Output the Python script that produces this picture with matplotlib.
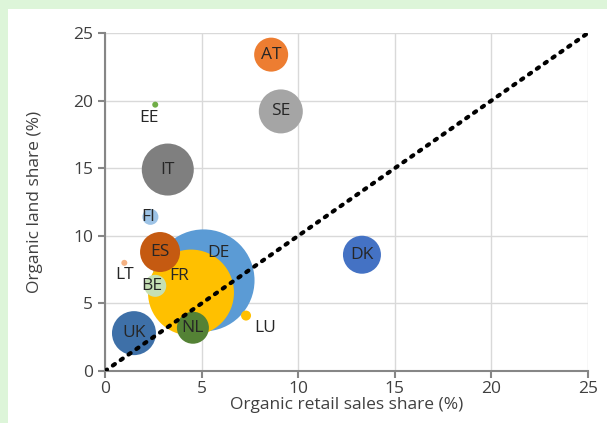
import matplotlib
matplotlib.use("Agg")
import matplotlib.pyplot as plt
from matplotlib.patches import Rectangle

countries = ["DE", "FR", "IT", "SE", "UK", "ES", "DK", "AT", "NL", "BE", "FI", "LU", "EE", "LT"]
retail_share = [5.1, 4.45, 3.25, 9.1, 1.5, 2.85, 13.3, 8.6, 4.55, 2.6, 2.35, 7.3, 2.6, 1.0]
land_share = [6.7, 5.8, 14.9, 19.2, 2.8, 8.8, 8.6, 23.4, 3.2, 6.3, 11.4, 4.1, 19.7, 8.0]
bubble_size = [51, 43, 26, 22, 22, 20, 19, 17, 16, 11, 8, 5, 3, 3]
colors = ["#5B9BD5", "#FFC000", "#7F7F7F", "#A5A5A5", "#3E70A8", "#C55A11", "#4472C4",
          "#ED7D31", "#548235", "#C5E0B4", "#9DC3E6", "#FFC000", "#70AD47", "#F4B183"]
# label offsets in data units (dx, dy)
label_offsets = {"DE": (0.75, 2.0), "FR": (-0.6, 1.2), "EE": (-0.3, -1.0), "LT": (0.0, -0.9),
                 "LU": (1.0, -0.9), "FI": (-0.1, 0.0), "BE": (-0.2, 0.0)}

ticks = [0, 5, 10, 15, 20, 25]

plt.rcParams['font.family'] = ['Open Sans', 'DejaVu Sans']
fig = plt.figure(figsize=(6.07, 4.23), dpi=100)
fig.patch.set_facecolor("#DDF5D9")
fig.add_artist(Rectangle((8 / 607, 0), 1, 1 - 9 / 423, transform=fig.transFigure,
                         facecolor="white", edgecolor="none", zorder=0))

ax = fig.add_axes([105 / 607, 52 / 423, 483 / 607, 338 / 423])
ax.set_facecolor("white")
ax.set_xlim(0, 25)
ax.set_ylim(0, 25)
ax.set_xticks(ticks)
ax.set_yticks(ticks)
ax.grid(True, color="#D9D9D9", linewidth=1.0, zorder=0)
ax.set_axisbelow(True)

for i, (c, x, y, r, col) in enumerate(zip(countries, retail_share, land_share, bubble_size, colors)):
    ax.scatter([x], [y], s=(2 * r * 0.72) ** 2, color=col, edgecolors="none", zorder=2 + i * 0.01)
    dx, dy = label_offsets.get(c, (0, 0))
    ax.text(x + dx, y + dy, c, ha="center", va="center", fontsize=12.5, color="#262626", zorder=5)

ax.plot([0, 25], [0, 25], linestyle=(0, (0.6, 1.7)), color="black", linewidth=3.0,
        dash_capstyle="round", zorder=4)

for s in ["top", "right"]:
    ax.spines[s].set_visible(False)
for s in ["left", "bottom"]:
    ax.spines[s].set_color("#868686")
    ax.spines[s].set_linewidth(1.5)
ax.tick_params(axis="both", colors="#868686", labelcolor="#404040", labelsize=12.5,
               length=5, width=1.5, direction="out")
ax.tick_params(axis="x", pad=2)
ax.set_xlabel("Organic retail sales share (%)", fontsize=12.5, color="#404040", labelpad=0)
ax.set_ylabel("Organic land share (%)", fontsize=12.5, color="#404040", labelpad=22)

fig.savefig("out.png", dpi=100, facecolor=fig.get_facecolor())
